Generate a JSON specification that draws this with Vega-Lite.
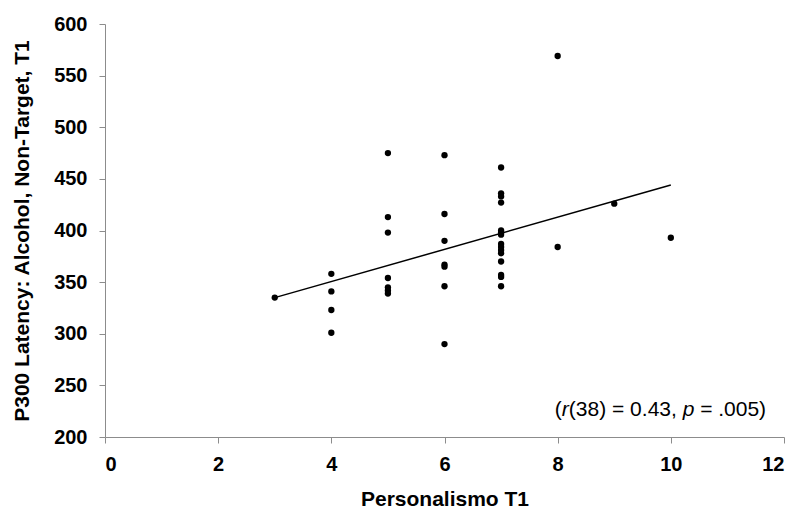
{
  "$schema": "https://vega.github.io/schema/vega-lite/v6.json",
  "autosize": "none",
  "width": 679,
  "height": 413,
  "padding": {"left": 105, "top": 24, "right": 14, "bottom": 73},
  "background": "white",
  "config": {
    "view": {"stroke": null},
    "font": "Liberation Sans",
    "axis": {
      "grid": false,
      "domainColor": "#8c8c8c",
      "tickColor": "#8c8c8c",
      "tickSize": 6,
      "labelFont": "Liberation Sans",
      "labelFontSize": 20,
      "labelFontWeight": "bold",
      "labelColor": "#000000",
      "titleFont": "Liberation Sans",
      "titleFontSize": 21,
      "titleFontWeight": "bold",
      "titleColor": "#000000"
    }
  },
  "datasets": {
    "pts": [
      {"p": 3, "lat": 335},
      {"p": 4, "lat": 358}, {"p": 4, "lat": 341}, {"p": 4, "lat": 323}, {"p": 4, "lat": 301},
      {"p": 5, "lat": 475}, {"p": 5, "lat": 413}, {"p": 5, "lat": 398}, {"p": 5, "lat": 354},
      {"p": 5, "lat": 345}, {"p": 5, "lat": 342}, {"p": 5, "lat": 339},
      {"p": 6, "lat": 473}, {"p": 6, "lat": 416}, {"p": 6, "lat": 390}, {"p": 6, "lat": 367},
      {"p": 6, "lat": 365}, {"p": 6, "lat": 346}, {"p": 6, "lat": 290},
      {"p": 7, "lat": 461}, {"p": 7, "lat": 436}, {"p": 7, "lat": 433}, {"p": 7, "lat": 427},
      {"p": 7, "lat": 400}, {"p": 7, "lat": 398}, {"p": 7, "lat": 396}, {"p": 7, "lat": 387},
      {"p": 7, "lat": 384}, {"p": 7, "lat": 381}, {"p": 7, "lat": 378}, {"p": 7, "lat": 370},
      {"p": 7, "lat": 357}, {"p": 7, "lat": 355}, {"p": 7, "lat": 346},
      {"p": 8, "lat": 569}, {"p": 8, "lat": 384},
      {"p": 9, "lat": 426},
      {"p": 10, "lat": 393}
    ],
    "fit": [
      {"p": 3, "lat": 335},
      {"p": 10, "lat": 444}
    ],
    "note": [
      {"p": 7.95, "lat": 226}
    ]
  },
  "layer": [
    {
      "data": {"name": "fit"},
      "mark": {"type": "line", "color": "#000000", "strokeWidth": 1.5},
      "encoding": {
        "x": {"field": "p", "type": "quantitative",
              "scale": {"domain": [0, 12], "nice": false},
              "axis": {"values": [0, 2, 4, 6, 8, 10, 12], "format": "d", "title": "Personalismo T1", "labelPadding": 11, "titlePadding": 14}},
        "y": {"field": "lat", "type": "quantitative",
              "scale": {"domain": [200, 600], "nice": false, "zero": false},
              "axis": {"values": [200, 250, 300, 350, 400, 450, 500, 550, 600], "format": "d", "title": "P300 Latency: Alcohol, Non-Target, T1", "labelPadding": 12, "titlePadding": 21}}
      }
    },
    {
      "data": {"name": "pts"},
      "mark": {"type": "circle", "color": "#000000", "opacity": 1, "size": 40},
      "encoding": {
        "x": {"field": "p", "type": "quantitative"},
        "y": {"field": "lat", "type": "quantitative"}
      }
    },
    {
      "data": {"name": "note"},
      "mark": {"type": "text", "align": "left", "baseline": "middle", "fontSize": 21, "font": "Liberation Sans", "color": "#000000", "text": "(", "dx": 0},
      "encoding": {"x": {"field": "p", "type": "quantitative"}, "y": {"field": "lat", "type": "quantitative"}}
    },
    {
      "data": {"name": "note"},
      "mark": {"type": "text", "align": "left", "baseline": "middle", "fontSize": 21, "font": "Liberation Sans", "fontStyle": "italic", "color": "#000000", "text": "r", "dx": 7},
      "encoding": {"x": {"field": "p", "type": "quantitative"}, "y": {"field": "lat", "type": "quantitative"}}
    },
    {
      "data": {"name": "note"},
      "mark": {"type": "text", "align": "left", "baseline": "middle", "fontSize": 21, "font": "Liberation Sans", "color": "#000000", "text": "(38) = 0.43,", "dx": 14},
      "encoding": {"x": {"field": "p", "type": "quantitative"}, "y": {"field": "lat", "type": "quantitative"}}
    },
    {
      "data": {"name": "note"},
      "mark": {"type": "text", "align": "left", "baseline": "middle", "fontSize": 21, "font": "Liberation Sans", "fontStyle": "italic", "color": "#000000", "text": "p", "dx": 127.8},
      "encoding": {"x": {"field": "p", "type": "quantitative"}, "y": {"field": "lat", "type": "quantitative"}}
    },
    {
      "data": {"name": "note"},
      "mark": {"type": "text", "align": "left", "baseline": "middle", "fontSize": 21, "font": "Liberation Sans", "color": "#000000", "text": "= .005)", "dx": 145.3},
      "encoding": {"x": {"field": "p", "type": "quantitative"}, "y": {"field": "lat", "type": "quantitative"}}
    }
  ]
}
